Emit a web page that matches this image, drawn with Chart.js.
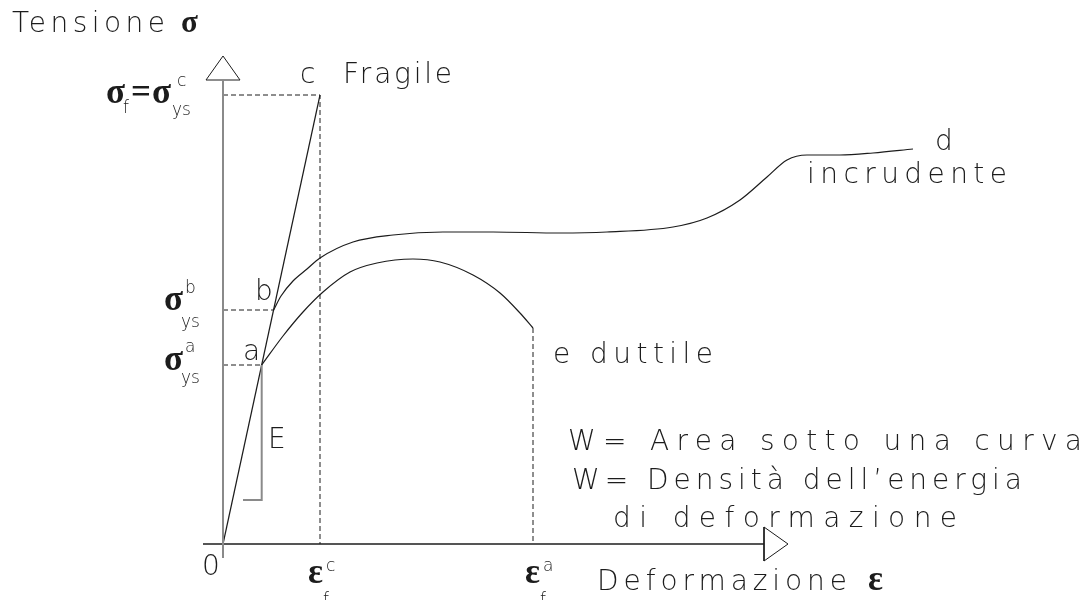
<!DOCTYPE html>
<html>
<head>
<meta charset="utf-8">
<title>Tensione - deformazione</title>
<script src="https://cdn.jsdelivr.net/npm/chart.js@4"></script>
<style>
  html, body { margin: 0; padding: 0; background: #fff; }
  #wrap { position: relative; width: 1087px; height: 600px; }
</style>
</head>
<body>
<div id="wrap"><canvas id="stressChart"></canvas></div>
<script>
'use strict';

// Deformazione (strain) and tensione (stress) values, arbitrary units
// Fragile material: straight elastic line up to rupture in c
var fragileStrain = [0, 0.97];
var fragileStress = [0, 449];

// Ductile material with work hardening: from yield point b to d
var hardeningStrain = [0.506, 0.58, 0.70, 0.84, 0.97, 1.30, 1.70, 2.20, 2.70, 3.37, 3.84, 4.50, 4.84, 5.17, 5.44, 5.64, 5.84, 6.17, 6.50, 6.90];
var hardeningStress = [234, 248, 263, 275, 286, 302, 309, 312, 312, 311, 312, 317, 326, 344, 367, 384, 389, 389, 391, 395];

// Ductile material: from yield point a to rupture in e
var ductileStrain = [0.387, 0.60, 0.80, 1.00, 1.27, 1.54, 1.90, 2.17, 2.50, 2.77, 2.97, 3.10];
var ductileStress = [179, 208, 232, 252, 272, 281, 285, 282, 269, 251, 231, 216];

// Characteristic points
var yieldA = { x: 0.387, y: 179 };   // sigma_ys^a
var yieldB = { x: 0.506, y: 234 };   // sigma_ys^b
var ruptureC = { x: 0.97, y: 449 };  // sigma_f = sigma_ys^c, eps_f^c
var ruptureE = { x: 3.10, y: 216 };  // eps_f^a

// Axes extent
var axisStrainMin = -0.20, axisStrainMax = 5.41;
var axisStressMin = -14, axisStressMax = 464;

// Helper: zip two arrays into {x, y} points
function toPoints(xs, ys) {
  return xs.map(function(x, i) { return { x: x, y: ys[i] }; });
}

var INK = '#1c1c1c';
var GREY = '#8a8a8a';
var SANS = '"DejaVu Sans Light", Lato, "Open Sans", sans-serif';
var TEXT = '300 28px ' + SANS;
var SMALL = '300 17px ' + SANS;
var GREEK = 'bold 35px "Liberation Serif", "DejaVu Serif", serif';

// Text on the diagram, placed in data units (x = strain, y = stress)
var labels = [
  { text: 'Tensione', x: -2.11, y: 512, font: TEXT, width: 153 },
  { text: 'σ', x: -0.42, y: 512, font: 'bold 31px "Liberation Serif", serif' },
  { text: 'c', x: 0.77, y: 461, font: TEXT },
  { text: 'Fragile', x: 1.20, y: 461, font: TEXT, width: 109 },

  { text: 'σ', x: -1.17, y: 441, font: GREEK },
  { text: 'f', x: -1.00, y: 431, font: SMALL },
  { text: '=', x: -0.92, y: 441, font: GREEK },
  { text: 'σ', x: -0.71, y: 441, font: GREEK },
  { text: 'c', x: -0.46, y: 458, font: SMALL },
  { text: 'ys', x: -0.51, y: 429, font: SMALL },

  { text: 'b', x: 0.32, y: 244, font: TEXT },
  { text: 'σ', x: -0.59, y: 234, font: GREEK },
  { text: 'b', x: -0.38, y: 251, font: SMALL },
  { text: 'ys', x: -0.42, y: 217, font: SMALL },

  { text: 'a', x: 0.20, y: 184, font: TEXT },
  { text: 'σ', x: -0.59, y: 174, font: GREEK },
  { text: 'a', x: -0.38, y: 192, font: SMALL },
  { text: 'ys', x: -0.42, y: 161, font: SMALL },

  { text: 'd', x: 7.12, y: 394, font: TEXT },
  { text: 'incrudente', x: 5.84, y: 361, font: TEXT, width: 200 },
  { text: 'e duttile', x: 3.30, y: 181, font: TEXT, width: 160 },
  { text: 'E', x: 0.45, y: 96, font: TEXT },

  { text: 'W= Area sotto una curva', x: 3.45, y: 94, font: TEXT, width: 514 },
  { text: 'W= Densità dell’energia', x: 3.49, y: 55, font: TEXT, width: 450 },
  { text: 'di deformazione', x: 3.90, y: 17, font: TEXT, width: 344 },

  { text: '0', x: -0.21, y: -31, font: TEXT },
  { text: 'ε', x: 0.85, y: -39, font: GREEK },
  { text: 'c', x: 1.03, y: -27, font: SMALL },
  { text: 'f', x: 1.00, y: -61, font: SMALL },
  { text: 'ε', x: 3.02, y: -39, font: GREEK },
  { text: 'a', x: 3.20, y: -27, font: SMALL },
  { text: 'f', x: 3.17, y: -61, font: SMALL },
  { text: 'Deformazione', x: 3.74, y: -46, font: TEXT, width: 250 },
  { text: 'ε', x: 6.45, y: -46, font: GREEK }
];

// Draws the labels, spreading letters so each line fills its width
var labelPlugin = {
  id: 'diagramLabels',
  afterDatasetsDraw: function(chart) {
    var ctx = chart.ctx;
    var xScale = chart.scales.x;
    var yScale = chart.scales.y;
    labels.forEach(function(l) {
      ctx.save();
      ctx.font = l.font;
      ctx.fillStyle = INK;
      ctx.textBaseline = 'alphabetic';
      ctx.textAlign = 'left';
      if (l.width && l.text.length > 1) {
        var w = ctx.measureText(l.text).width;
        ctx.letterSpacing = ((l.width - w) / (l.text.length - 1)) + 'px';
      }
      ctx.fillText(l.text, xScale.getPixelForValue(l.x), yScale.getPixelForValue(l.y));
      ctx.restore();
    });
  }
};

function line(points, color, width, dash, smooth) {
  return {
    data: points,
    borderColor: color,
    borderWidth: width,
    borderDash: dash || [],
    pointRadius: 0,
    fill: false,
    tension: 0,
    cubicInterpolationMode: smooth ? 'monotone' : 'default'
  };
}

var datasets = [
  // axes with arrow heads
  line([{ x: 0, y: axisStressMin }, { x: 0, y: axisStressMax }], GREY, 2),
  line([{ x: -0.17, y: axisStressMax }, { x: 0, y: 488 }, { x: 0.17, y: axisStressMax }, { x: -0.17, y: axisStressMax }], INK, 1),
  line([{ x: axisStrainMin, y: 0 }, { x: axisStrainMax, y: 0 }], INK, 1.5),
  line([{ x: axisStrainMax, y: -17 }, { x: 5.65, y: 0 }, { x: axisStrainMax, y: 17 }, { x: axisStrainMax, y: -17 }], INK, 1),

  // reference lines to the axes
  line([{ x: 0, y: ruptureC.y }, ruptureC, { x: ruptureC.x, y: 0 }], INK, 1, [5, 3]),
  line([{ x: 0, y: yieldB.y }, yieldB], INK, 1, [5, 3]),
  line([{ x: 0, y: yieldA.y }, yieldA], INK, 1, [5, 3]),
  line([ruptureE, { x: ruptureE.x, y: 0 }], INK, 1, [5, 3]),

  // slope mark for the elastic modulus E
  line([yieldA, { x: yieldA.x, y: 44 }, { x: 0.20, y: 44 }], GREY, 2),

  // stress-strain curves
  line(toPoints(fragileStrain, fragileStress), INK, 1.2),
  line(toPoints(hardeningStrain, hardeningStress), INK, 1.2, null, true),
  line(toPoints(ductileStrain, ductileStress), INK, 1.2, null, true)
];

var stressChart = new Chart(document.getElementById('stressChart'), {
  type: 'line',
  data: { datasets: datasets },
  options: {
    responsive: true,
    maintainAspectRatio: false,
    animation: false,
    events: [],
    layout: { padding: 0 },
    plugins: { legend: { display: false }, tooltip: { enabled: false } },
    scales: {
      x: { type: 'linear', min: -2.23, max: 8.64, display: false },
      y: { type: 'linear', min: -56, max: 544, display: false }
    }
  },
  plugins: [labelPlugin]
});
</script>
</body>
</html>
